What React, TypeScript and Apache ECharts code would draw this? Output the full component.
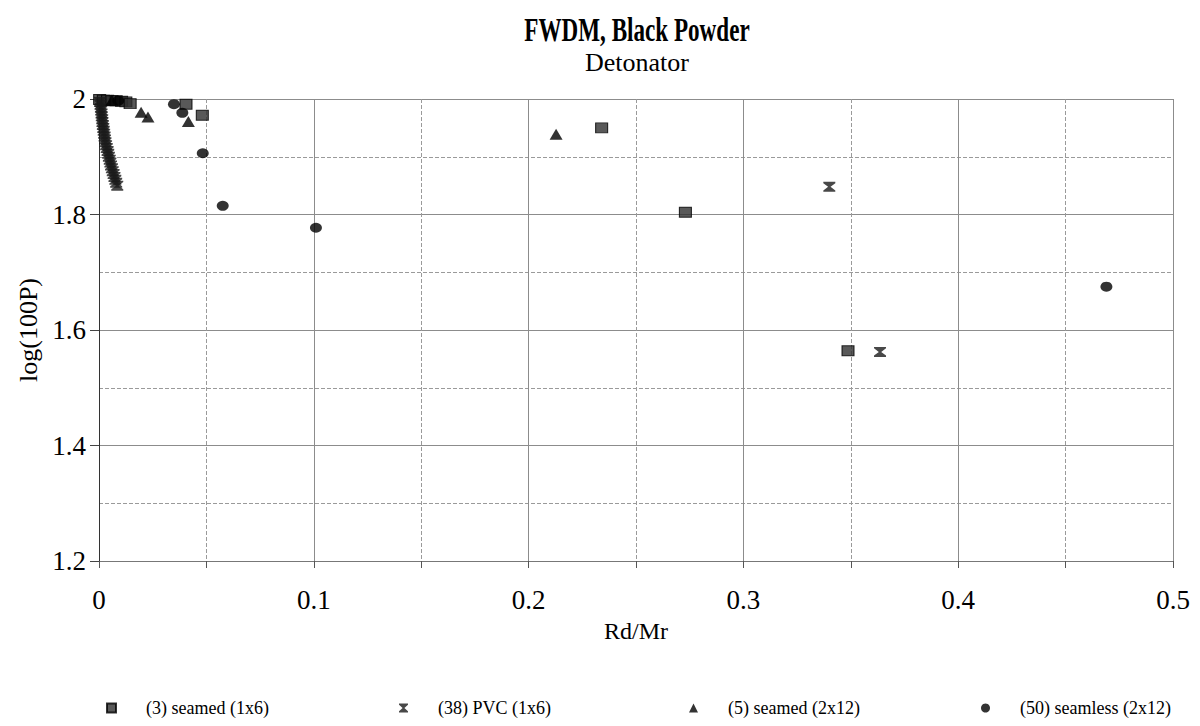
import { useEffect, useRef } from "react";
import * as echarts from "echarts";

const seriesNames = [
  "(3) seamed (1x6)",
  "(38) PVC (1x6)",
  "(5) seamed (2x12)",
  "(50) seamless (2x12)",
];

const seamed1x6: number[][] = [
  [0.0003, 1.999], [0.002, 1.998], [0.004, 1.998], [0.006, 1.997], [0.008, 1.997],
  [0.0105, 1.996], [0.0125, 1.995], [0.0145, 1.992], [0.0405, 1.991], [0.0481, 1.972],
  [0.234, 1.95], [0.273, 1.804], [0.3487, 1.564],
];

const pvc1x6: number[][] = [
  [0.0005, 1.995], [0.0007, 1.99], [0.0009, 1.985], [0.001, 1.98], [0.0012, 1.975],
  [0.0013, 1.97], [0.0015, 1.965], [0.0016, 1.96], [0.0018, 1.955], [0.002, 1.95],
  [0.0022, 1.945], [0.0024, 1.94], [0.0026, 1.935], [0.0028, 1.93], [0.003, 1.925],
  [0.0033, 1.92], [0.0036, 1.915], [0.004, 1.91], [0.0043, 1.905], [0.0046, 1.9],
  [0.005, 1.895], [0.0053, 1.89], [0.0056, 1.885], [0.006, 1.88], [0.0064, 1.875],
  [0.0068, 1.87], [0.0072, 1.865], [0.0076, 1.86], [0.008, 1.855], [0.0085, 1.85],
  [0.34, 1.848], [0.3636, 1.562],
];

const seamed2x12: number[][] = [
  [0.006, 1.998], [0.0196, 1.977], [0.0228, 1.969], [0.0416, 1.961], [0.2128, 1.939],
];

const seamless2x12: number[][] = [
  [0.009, 1.997], [0.0349, 1.991], [0.0388, 1.976], [0.0483, 1.906], [0.0576, 1.815],
  [0.101, 1.777], [0.469, 1.675],
];

const hourglass =
  "path://M0,0 L10,0 L10,1.4 L6,5 L10,8.6 L10,10 L0,10 L0,8.6 L4,5 L0,1.4 Z";

const FONT = "'Liberation Serif', 'Times New Roman', serif";

export default function App() {
  const ref = useRef<HTMLDivElement>(null);
  useEffect(() => {
    const chart = echarts.init(ref.current!, null, { renderer: "svg" });
    const legendLefts = [101, 394, 684, 976];
    const icons = ["rect", hourglass, "triangle", "circle"];
    chart.setOption({
      animation: false,
      backgroundColor: "#ffffff",
      graphic: [
        {
          type: "text",
          x: 637,
          y: 12,
          scaleX: 0.68,
          style: {
            text: "FWDM, Black Powder",
            fontFamily: FONT,
            fontWeight: "bold",
            fontSize: 34,
            fill: "#000",
            textAlign: "center",
          },
        },
        {
          type: "text",
          x: 637,
          y: 49,
          style: {
            text: "Detonator",
            fontFamily: FONT,
            fontSize: 26,
            fill: "#000",
            textAlign: "center",
          },
        },
      ],
      legend: seriesNames.map((n, i) => ({
        data: [{ name: n, icon: icons[i] }],
        left: legendLefts[i],
        top: 694,
        itemWidth: 9,
        itemHeight: 9,
        textStyle: {
          fontFamily: FONT,
          fontSize: 18,
          color: "#000",
          padding: [0, 0, 0, 25],
        },
      })),
      grid: { left: 99, right: 27, top: 99, bottom: 165, containLabel: false },
      xAxis: {
        type: "value",
        min: 0,
        max: 0.5,
        interval: 0.1,
        name: "Rd/Mr",
        nameLocation: "middle",
        nameGap: 58,
        nameTextStyle: { fontFamily: FONT, fontSize: 24, color: "#000" },
        axisLine: { show: true, onZero: false, lineStyle: { color: "#777", width: 1 } },
        axisTick: { show: true, length: 7, lineStyle: { color: "#555" } },
        minorTick: { show: true, splitNumber: 2, length: 7, lineStyle: { color: "#555" } },
        axisLabel: { fontFamily: FONT, fontSize: 27, color: "#000", margin: 25 },
        splitLine: { show: true, lineStyle: { color: "#8c8c8c", width: 1 } },
        minorSplitLine: { show: true, lineStyle: { color: "#9a9a9a", width: 1, type: "dashed" } },
      },
      yAxis: {
        type: "value",
        min: 1.2,
        max: 2,
        interval: 0.2,
        name: "log(100P)",
        nameLocation: "middle",
        nameGap: 44,
        nameRotate: 90,
        nameTextStyle: { fontFamily: FONT, fontSize: 26, color: "#000" },
        axisLine: { show: true, onZero: false, lineStyle: { color: "#333", width: 1 } },
        axisTick: { show: true, length: 9, lineStyle: { color: "#444" } },
        axisLabel: {
          fontFamily: FONT,
          fontSize: 27,
          color: "#000",
          margin: 13,
          formatter: (v: number) => String(+v.toFixed(1)),
        },
        splitLine: { show: true, lineStyle: { color: "#8c8c8c", width: 1 } },
        minorTick: { show: false, splitNumber: 2 },
        minorSplitLine: { show: true, lineStyle: { color: "#9a9a9a", width: 1, type: "dashed" } },
      },
      series: [
        {
          name: seriesNames[0],
          type: "scatter",
          data: seamed1x6,
          symbol: "rect",
          symbolSize: [12, 10],
          itemStyle: { color: "#303030", borderColor: "#000", borderWidth: 1 },
        },
        {
          name: seriesNames[1],
          type: "scatter",
          data: pvc1x6,
          symbol: hourglass,
          symbolSize: [12, 10],
          itemStyle: { color: "#1a1a1a" },
        },
        {
          name: seriesNames[2],
          type: "scatter",
          data: seamed2x12,
          symbol: "triangle",
          symbolSize: [13, 11],
          itemStyle: { color: "#000" },
        },
        {
          name: seriesNames[3],
          type: "scatter",
          data: seamless2x12,
          symbol: "circle",
          symbolSize: [12, 10],
          itemStyle: { color: "#000" },
        },
      ],
    });
    return () => chart.dispose();
  }, []);
  return (
    <div
      ref={ref}
      style={{ position: "absolute", left: 0, top: 0, width: 1200, height: 726 }}
    />
  );
}
